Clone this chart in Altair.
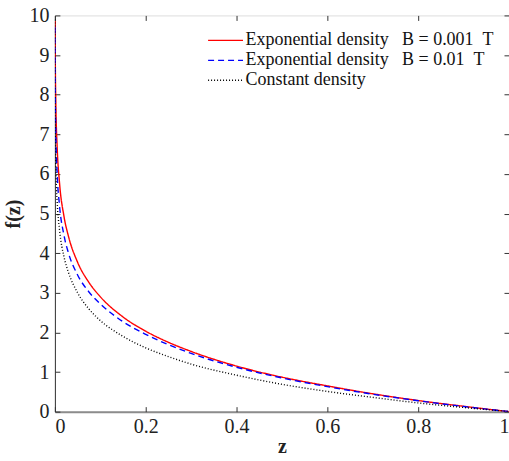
import altair as alt
import pandas as pd

# ---- data ----
label_red = "Exponential density\u00a0\u00a0\u00a0B = 0.001\u00a0\u00a0T"
label_blue = "Exponential density\u00a0\u00a0\u00a0B = 0.01\u00a0\u00a0T"
label_const = "Constant density"

z_red = [0.0004, 0.001, 0.002, 0.005, 0.01, 0.02, 0.03, 0.05, 0.075, 0.1, 0.15, 0.2,
         0.25, 0.3, 0.4, 0.5, 0.6, 0.7, 0.8, 0.9, 1.0]
f_red = [9.86, 8.70, 7.83, 6.68, 5.80, 4.93, 4.42, 3.77, 3.26, 2.90, 2.39, 2.03,
         1.75, 1.52, 1.15, 0.87, 0.65, 0.45, 0.28, 0.135, 0.0]

z_blue = [0.0002, 0.0005, 0.001, 0.002, 0.005, 0.01, 0.02, 0.03, 0.05, 0.075, 0.1, 0.15,
          0.2, 0.25, 0.3, 0.4, 0.5, 0.6, 0.7, 0.8, 0.9, 1.0]
f_blue = [9.7, 8.64, 7.85, 7.05, 6.00, 5.22, 4.45, 4.00, 3.45, 3.02, 2.72, 2.27,
          1.95, 1.69, 1.47, 1.12, 0.85, 0.63, 0.44, 0.275, 0.13, 0.0]

z_const = [0.00005, 0.0002, 0.0005, 0.001, 0.002, 0.005, 0.01, 0.02, 0.03, 0.05, 0.075,
           0.1, 0.15, 0.2, 0.25, 0.3, 0.4, 0.5, 0.6, 0.7, 0.8, 0.9, 1.0]
f_const = [9.9, 8.52, 7.60, 6.91, 6.21, 5.30, 4.61, 3.91, 3.51, 3.00, 2.59,
           2.30, 1.90, 1.61, 1.39, 1.20, 0.92, 0.69, 0.51, 0.36, 0.22, 0.105, 0.0]

x_ticks = [0, 0.2, 0.4, 0.6, 0.8, 1.0]
y_ticks = [0, 1, 2, 3, 4, 5, 6, 7, 8, 9, 10]

series = [label_red, label_blue, label_const]
colors = ["#ff0000", "#0000ff", "#000000"]
dashes = [[1, 0], [6, 4], [1, 2]]
widths = [1.4, 1.4, 1.1]

rows = []
for k, (zs, fs, name) in enumerate([(z_red, f_red, label_red),
                                     (z_blue, f_blue, label_blue),
                                     (z_const, f_const, label_const)]):
    for zz, ff in zip(zs, fs):
        rows.append({"z": zz, "f": ff, "series": name, "order": k})
df = pd.DataFrame(rows)

FONT = "Liberation Serif"
xs = alt.Scale(domain=[0, 1], nice=False, zero=False)
ys = alt.Scale(domain=[0, 10], nice=False, zero=False)

# long line sample drawn as a custom symbol path (scaled by sqrt(size)/2)
LEG = dict(title=None, orient="none", legendX=162, legendY=16,
           symbolType="M-3.5,0H3.5", symbolSize=100, symbolStrokeWidth=1.5,
           symbolFillColor="transparent",
           labelFont=FONT, labelFontSize=18, labelColor="#111111", labelOffset=11,
           rowPadding=2, padding=0, labelLimit=400)

main = alt.Chart(df).mark_line(clip=True, interpolate="monotone").encode(
    x=alt.X("z:Q", scale=xs, axis=alt.Axis(
        orient="bottom", values=x_ticks, format=".1~f", ticks=False, grid=False,
        domain=True, domainColor="#8c8c8c", domainWidth=2,
        labelFont=FONT, labelFontSize=20, labelColor="#222222", labelPadding=5,
        title="z", titleFont=FONT, titleFontSize=20, titleFontWeight="bold",
        titleColor="#222222", titlePadding=0)),
    y=alt.Y("f:Q", scale=ys, axis=alt.Axis(
        orient="left", values=y_ticks, format="d", ticks=False, grid=False,
        domain=True, domainColor="#333333", domainWidth=1,
        labelFont=FONT, labelFontSize=20, labelColor="#222222", labelPadding=6,
        title="f(z)", titleFont=FONT, titleFontSize=20, titleFontWeight="bold",
        titleColor="#222222", titlePadding=5)),
    color=alt.Color("series:N", scale=alt.Scale(domain=series, range=colors),
                    legend=alt.Legend(**LEG)),
    strokeDash=alt.StrokeDash("series:N", scale=alt.Scale(domain=series, range=dashes),
                              legend=alt.Legend(**LEG)),
    strokeWidth=alt.StrokeWidth("series:N", scale=alt.Scale(domain=series, range=widths),
                                legend=None),
    order="order:Q",
    detail="series:N",
)

def tick_axis(orient_x, orient_y):
    return alt.Chart(df).mark_line(opacity=0).encode(
        x=alt.X("z:Q", scale=xs, axis=alt.Axis(
            orient=orient_x, values=x_ticks, labels=False, domain=False, grid=False,
            ticks=True, tickSize=5, tickColor="#333333", offset=-5, title=None)),
        y=alt.Y("f:Q", scale=ys, axis=alt.Axis(
            orient=orient_y, values=y_ticks, labels=False, domain=False, grid=False,
            ticks=True, tickSize=5, tickColor="#333333", offset=-5, title=None)),
        detail="series:N",
    )

chart = alt.layer(main, tick_axis("bottom", "left"), tick_axis("top", "right")).resolve_axis(
    x="independent", y="independent"
).properties(
    width=455, height=397,
    autosize=alt.AutoSizeParams(type="none"),
    padding={"left": 55, "top": 15, "right": 0, "bottom": 49},
).configure_view(stroke="#333333", strokeWidth=1).configure_axis(
    labelFont=FONT, titleFont=FONT
).configure_legend(labelFont=FONT).configure(background="white", font=FONT)

chart.save("out.html", embed_options={"renderer": "svg", "actions": False})
